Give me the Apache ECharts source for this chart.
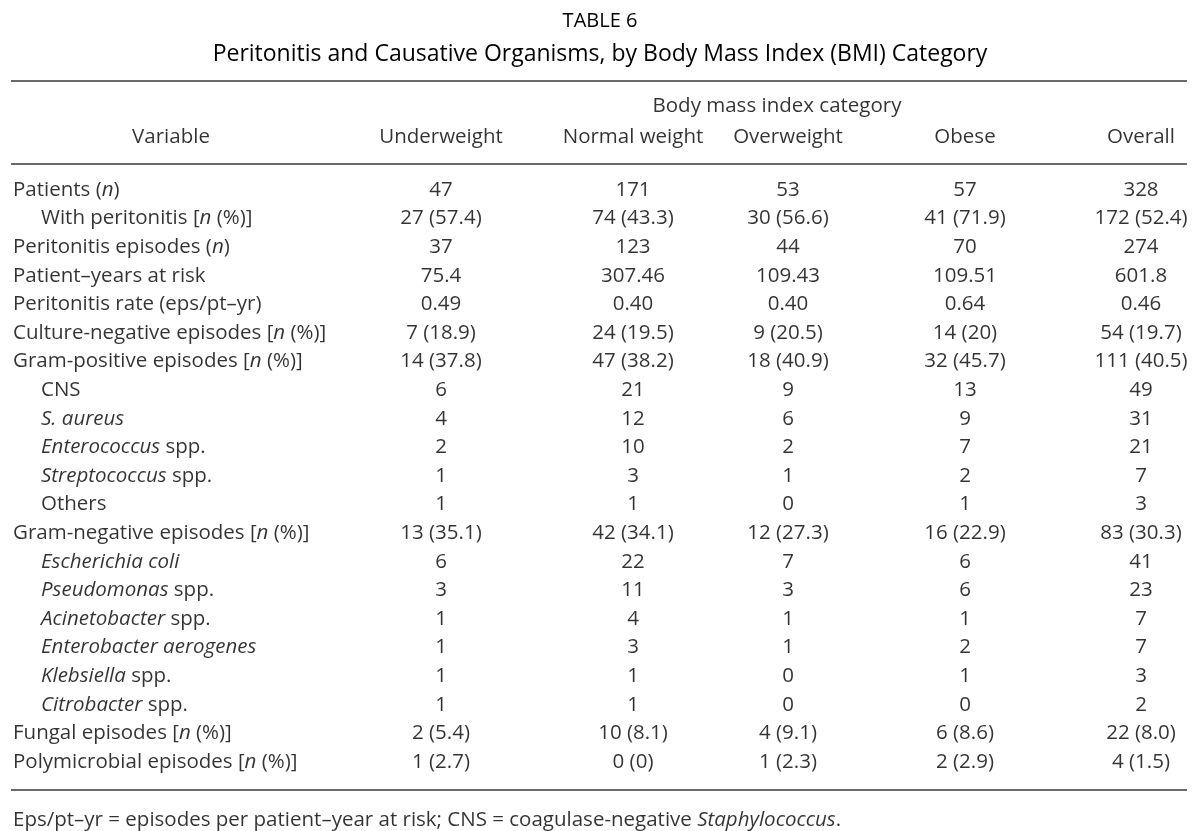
<!DOCTYPE html>
<html>
<head>
<meta charset="utf-8">
<script src="https://cdn.jsdelivr.net/npm/echarts@6/dist/echarts.min.js"></script>
<style>
html, body { margin: 0; padding: 0; background: #fff; }
#main { width: 1200px; height: 831px; }
</style>
</head>
<body>
<div id="main"></div>
<script>
// row labels ({i|..} = italic part), and which rows are indented
const variables = [
    'Patients ({i|n})',
    'With peritonitis [{i|n} (%)]',
    'Peritonitis episodes ({i|n})',
    'Patient–years at risk',
    'Peritonitis rate (eps/pt–yr)',
    'Culture-negative episodes [{i|n} (%)]',
    'Gram-positive episodes [{i|n} (%)]',
    'CNS',
    '{i|S. aureus}',
    '{i|Enterococcus} spp.',
    '{i|Streptococcus} spp.',
    'Others',
    'Gram-negative episodes [{i|n} (%)]',
    '{i|Escherichia coli}',
    '{i|Pseudomonas} spp.',
    '{i|Acinetobacter} spp.',
    '{i|Enterobacter aerogenes}',
    '{i|Klebsiella} spp.',
    '{i|Citrobacter} spp.',
    'Fungal episodes [{i|n} (%)]',
    'Polymicrobial episodes [{i|n} (%)]'
];
const indented = [0, 1, 0, 0, 0, 0, 0, 1, 1, 1, 1, 1, 0, 1, 1, 1, 1, 1, 1, 0, 0];

const headers = ['Underweight', 'Normal weight', 'Overweight', 'Obese', 'Overall'];

const underweight = ['47', '27 (57.4)', '37', '75.4', '0.49', '7 (18.9)', '14 (37.8)', '6', '4', '2', '1', '1',
    '13 (35.1)', '6', '3', '1', '1', '1', '1', '2 (5.4)', '1 (2.7)'];
const normalWeight = ['171', '74 (43.3)', '123', '307.46', '0.40', '24 (19.5)', '47 (38.2)', '21', '12', '10', '3', '1',
    '42 (34.1)', '22', '11', '4', '3', '1', '1', '10 (8.1)', '0 (0)'];
const overweight = ['53', '30 (56.6)', '44', '109.43', '0.40', '9 (20.5)', '18 (40.9)', '9', '6', '2', '1', '0',
    '12 (27.3)', '7', '3', '1', '1', '0', '0', '4 (9.1)', '1 (2.3)'];
const obese = ['57', '41 (71.9)', '70', '109.51', '0.64', '14 (20)', '32 (45.7)', '13', '9', '7', '2', '1',
    '16 (22.9)', '6', '6', '1', '2', '1', '0', '6 (8.6)', '2 (2.9)'];
const overall = ['328', '172 (52.4)', '274', '601.8', '0.46', '54 (19.7)', '111 (40.5)', '49', '31', '21', '7', '3',
    '83 (30.3)', '41', '23', '7', '7', '3', '2', '22 (8.0)', '4 (1.5)'];

const columns = [underweight, normalWeight, overweight, obese, overall];

// layout (pixel units, axes are 1:1 with the canvas)
const colX = [441, 633, 788, 965, 1141];
const labelX = 13, indentX = 41;
const rowTop = 190, rowStep = 28.6;
const headerY = 137, spannerY = 106;
const rules = [81, 164, 790];

const FONT = '"Open Sans", sans-serif';
const COLOR = '#000';
const FS = 20.5;
const FW = 500;

const rich = {
    i: { fontStyle: 'italic', fontFamily: FONT, fontSize: FS, fontWeight: FW, color: COLOR }
};

function rowY(i) { return rowTop + i * rowStep; }

function textSeries(name, data, align) {
    return {
        name: name,
        type: 'scatter',
        symbolSize: 0,
        silent: true,
        data: data,
        label: {
            show: true,
            position: 'inside',
            align: align,
            verticalAlign: 'middle',
            fontFamily: FONT,
            fontSize: FS,
            fontWeight: FW,
            color: COLOR,
            rich: rich,
            formatter: p => p.data.text
        }
    };
}

const series = [];

series.push(textSeries('Variable',
    variables.map((v, i) => ({ value: [indented[i] ? indentX : labelX, rowY(i)], text: v })), 'left'));

columns.forEach((col, c) => {
    series.push(textSeries(headers[c],
        col.map((v, i) => ({ value: [colX[c], rowY(i)], text: v })), 'center'));
});

const headData = headers.map((h, c) => ({ value: [colX[c], headerY], text: h }));
headData.push({ value: [171, headerY], text: 'Variable' });
headData.push({ value: [777, spannerY], text: 'Body mass index category' });
const head = textSeries('header', headData, 'center');
head.markLine = {
    silent: true,
    symbol: 'none',
    label: { show: false },
    lineStyle: { color: '#6a6a6a', width: 2, type: 'solid' },
    data: rules.map(y => [{ coord: [11, y] }, { coord: [1187, y] }])
};
series.push(head);

series.push(textSeries('footnote', [{
    value: [labelX, 820],
    text: 'Eps/pt–yr = episodes per patient–year at risk; CNS = coagulase-negative {i|Staphylococcus}.'
}], 'left'));

const myChart = echarts.init(document.getElementById('main'));
myChart.setOption({
    animation: false,
    title: [
        { text: 'TABLE 6', left: 'center', top: 6,
          textStyle: { fontFamily: FONT, fontSize: 20, fontWeight: FW, color: COLOR } },
        { text: 'Peritonitis and Causative Organisms, by Body Mass Index (BMI) Category', left: 'center', top: 38,
          textStyle: { fontFamily: FONT, fontSize: 23, fontWeight: FW, color: COLOR } }
    ],
    grid: { left: 0, right: 0, top: 0, bottom: 0 },
    xAxis: { type: 'value', min: 0, max: 1200, show: false },
    yAxis: { type: 'value', min: 0, max: 831, inverse: true, show: false },
    series: series
});
</script>
</body>
</html>
